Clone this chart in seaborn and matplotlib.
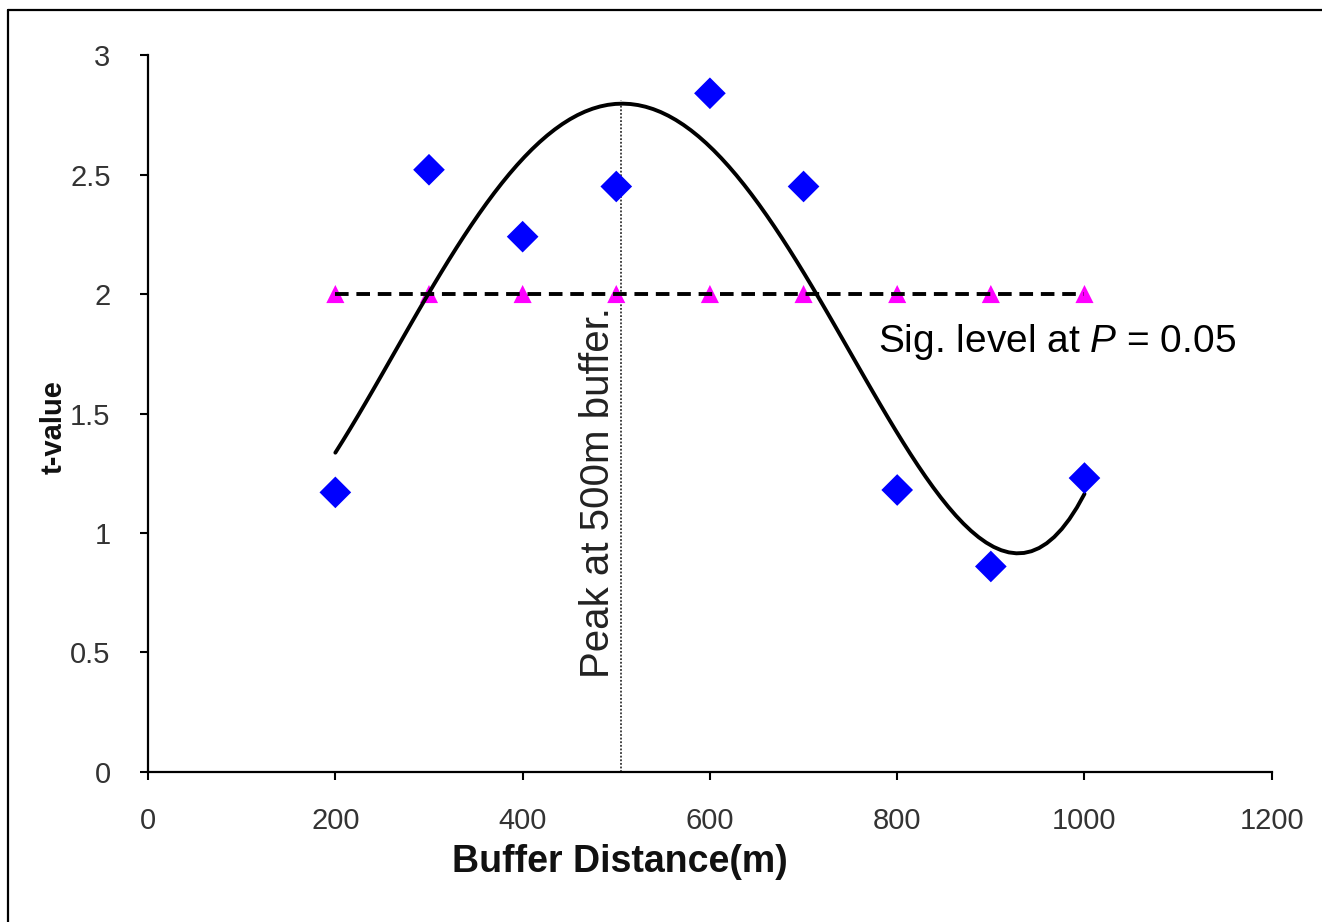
import numpy as np
import pandas as pd
import seaborn as sns
import matplotlib.pyplot as plt
from matplotlib.lines import Line2D

# values
buffer_m = [200, 300, 400, 500, 600, 700, 800, 900, 1000]
t_values = [1.17, 2.52, 2.24, 2.45, 2.84, 2.45, 1.18, 0.86, 1.23]
sig_level = [2, 2, 2, 2, 2, 2, 2, 2, 2]
peak_x = 505
peak_top = 2.81
x_ticks = [0, 200, 400, 600, 800, 1000, 1200]
y_ticks = [0, 0.5, 1, 1.5, 2, 2.5, 3]
y_tick_labels = ["0", "0.5", "1", "1.5", "2", "2.5", "3"]

df = pd.DataFrame({"buffer": buffer_m, "t": t_values, "sig": sig_level})

sns.set_style("white")
plt.rcParams['font.family'] = ['Liberation Sans', 'DejaVu Sans']
plt.rcParams['mathtext.fontset'] = 'custom'
plt.rcParams['mathtext.rm'] = 'Liberation Sans'
plt.rcParams['mathtext.it'] = 'Liberation Sans:italic'

fig = plt.figure(figsize=(13.22, 9.22), dpi=100)
ax = fig.add_axes([0.112, 0.1627, 0.85, 0.7776])

# polynomial trend line (4th order, like the spreadsheet trendline)
sns.regplot(data=df, x="buffer", y="t", order=4, ci=None, scatter=False,
            line_kws=dict(color="black", lw=2.8, zorder=3), ax=ax)

# significance level
sns.scatterplot(data=df, x="buffer", y="sig", marker="^", s=170, color="#FF00FF",
                edgecolor="none", zorder=2, ax=ax)
ax.plot(df["buffer"], df["sig"], color="black", lw=2.8, ls=(0, (3.5, 2)), zorder=2.5)

# observed t-values
sns.scatterplot(data=df, x="buffer", y="t", marker="D", s=260, color="#0000FF",
                edgecolor="none", zorder=4, ax=ax)

# peak marker
ax.vlines(peak_x, 0, peak_top, color="#333333", lw=1.3, ls=(0, (1, 1)), zorder=1)
ax.text(480, 1.17, "Peak at 500m buffer.", rotation=90, ha="center", va="center",
        fontsize=29, color="#222222")
ax.text(779, 1.8, "Sig. level at $\\mathit{P}$ = 0.05", ha="left", va="center",
        fontsize=28, color="black")

ax.set_xlim(0, 1200)
ax.set_ylim(0, 3)
ax.set_xticks(x_ticks)
ax.set_yticks(y_ticks)
ax.set_yticklabels(y_tick_labels)
ax.tick_params(axis="both", direction="out", length=6, width=1.5, color="black",
               labelsize=21, labelcolor="#333333", left=True, bottom=True)
ax.tick_params(axis="x", pad=19)
ax.tick_params(axis="y", pad=21)

ax.set_xlabel("Buffer Distance(m)", fontsize=27, fontweight="bold", color="#111111")
ax.set_ylabel("t-value", fontsize=21, fontweight="bold", color="#111111")
ax.xaxis.set_label_coords(0.42, -0.1)
ax.yaxis.set_label_coords(-0.072, 0.481)

sns.despine(ax=ax)
for side in ["left", "bottom"]:
    ax.spines[side].set_color("black")
    ax.spines[side].set_linewidth(1.6)

# chart-area border (top and left edges visible in the original crop)
fig.add_artist(Line2D([8 / 1322, 8 / 1322], [0, 1 - 10 / 922], color="black", lw=1.6))
fig.add_artist(Line2D([8 / 1322, 1], [1 - 10 / 922, 1 - 10 / 922], color="black", lw=1.6))

fig.savefig("out.png", dpi=100, facecolor="white")
